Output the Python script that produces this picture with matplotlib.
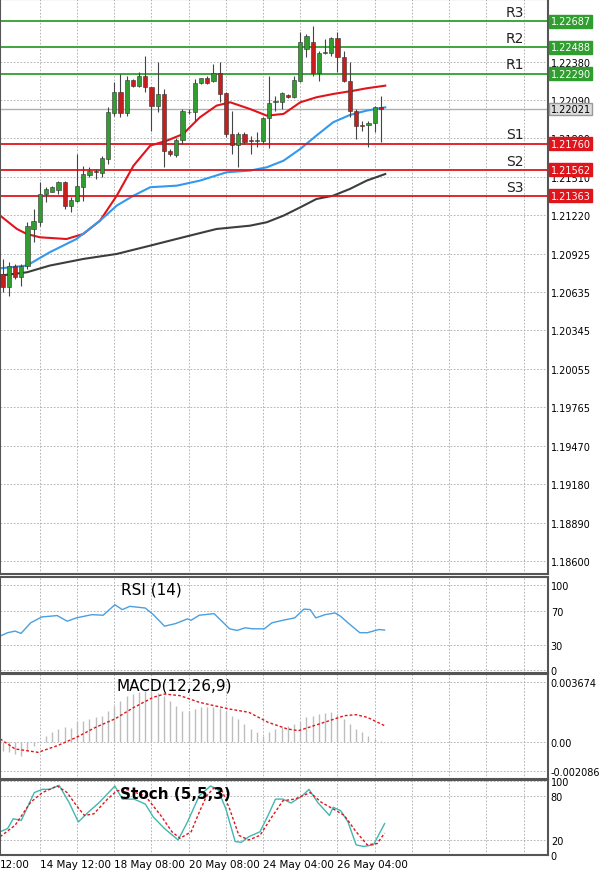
import matplotlib.pyplot as plt
import matplotlib.transforms as mtransforms
import numpy as np

# EURUSD H4 style chart: candles, MAs, pivots, RSI, MACD, Stoch

# candles, prices in 1e-5 units
opens = [120773, 120672, 120836, 120747, 120836, 121113, 121164, 121378, 121396, 121411,
         121471, 121290, 121328, 121429, 121522, 121550, 121534, 121643, 121991, 122153,
         121991, 122241, 122193, 122269, 122185, 122042, 122132, 121706, 121676, 121789,
         121996, 121996, 122218, 122259, 122231, 122294, 122140, 121832, 121751, 121832,
         121787, 121782, 121782, 121953, 122072, 122072, 122127, 122110, 122236, 122476,
         122531, 122294, 122445, 122445, 122556, 122412, 122236, 122009, 121900, 121900,
         121913, 122034]
highs = [120886, 120861, 120845, 120845, 121164, 121264, 121466, 121429, 121441, 121479,
         121479, 121353, 121681, 121592, 121580, 121567, 121668, 122034, 122223, 122286,
         122274, 122248, 122299, 122425, 122190, 122375, 122173, 121719, 121799, 122021,
         122021, 122248, 122259, 122274, 122362, 122375, 122148, 122009, 121845, 121850,
         121820, 121845, 121958, 122274, 122122, 122148, 122137, 122274, 122602, 122589,
         122652, 122463, 122551, 122564, 122602, 122463, 122375, 122021, 121933, 121933,
         122047, 122122]
lows = [120634, 120609, 120735, 120684, 120810, 121012, 121138, 121315, 121391, 121378,
        121264, 121239, 121315, 121328, 121504, 121492, 121504, 121605, 121971, 121958,
        121971, 122185, 122185, 122148, 121857, 121996, 121580, 121668, 121656, 121756,
        121984, 121933, 122211, 122211, 122223, 122072, 121807, 121681, 121580, 121756,
        121681, 121731, 121756, 121724, 122009, 122021, 122102, 122102, 122223, 122412,
        122274, 122236, 122438, 122425, 122299, 122223, 121958, 121794, 121857, 121731,
        121845, 121769]
closes = [120672, 120836, 120747, 120836, 121138, 121176, 121378, 121416, 121429, 121471,
          121290, 121335, 121441, 121529, 121555, 121542, 121653, 121996, 122153, 121991,
          122241, 122193, 122269, 122185, 122042, 122132, 121706, 121681, 121789, 122006,
          122001, 122218, 122254, 122218, 122294, 122135, 121832, 121751, 121832, 121769,
          121782, 121787, 121953, 122067, 122082, 122140, 122115, 122241, 122531, 122576,
          122294, 122445, 122450, 122556, 122412, 122236, 122009, 121895, 121895, 121913,
          122034, 122021]

# moving averages (read at sample positions)
ma_red_x = [-0.4, 2.3, 3.9, 6.0, 10.3, 13.0, 15.7, 18.4, 21.1, 23.8, 26.5, 29.1, 31.8,
            34.5, 36.7, 39.9, 42.6, 45.3, 48.0, 50.6, 53.3, 56.6, 58.7, 61.7]
ma_red = [121214, 121113, 121075, 121050, 121037, 121075, 121176, 121365, 121592, 121744,
          121782, 121832, 121958, 122047, 122072, 122021, 121971, 121984, 122072, 122110,
          122135, 122160, 122178, 122198]
ma_blue_x = [-0.4, 3.9, 7.6, 11.9, 15.7, 18.4, 21.1, 23.8, 28.1, 31.8, 36.1, 39.9, 42.6,
             45.3, 48.0, 50.6, 53.3, 56.0, 58.7, 61.7]
ma_blue = [120815, 120836, 120937, 121037, 121176, 121290, 121365, 121429, 121441, 121479,
           121542, 121555, 121580, 121630, 121719, 121820, 121921, 121976, 122009, 122034]
ma_black_x = [-0.4, 3.9, 7.6, 13.0, 18.4, 23.8, 29.1, 34.5, 39.9, 42.6, 45.3, 48.0, 50.6,
              53.3, 56.0, 58.7, 61.7]
ma_black = [120760, 120785, 120836, 120886, 120924, 120987, 121050, 121113, 121138, 121164,
            121214, 121277, 121340, 121365, 121416, 121479, 121529]

levels = {"R3": 1.22687, "R2": 1.22488, "R1": 1.22290,
          "S1": 1.21760, "S2": 1.21562, "S3": 1.21363}
last_price = 1.22021
price_ticks = [1.22380, 1.22090, 1.21800, 1.21510, 1.21220, 1.20925, 1.20635, 1.20345,
               1.20055, 1.19765, 1.19470, 1.19180, 1.18890, 1.18600]

rsi_x = [-0.4, 0.8, 2.0, 2.96, 4.5, 6.3, 8.8, 10.4, 11.9, 14.4, 16.2, 18.1, 19.3, 20.5,
         23.0, 24.3, 26.1, 27.9, 29.8, 30.4, 31.7, 34.1, 36.6, 37.8, 39.1, 40.3, 42.2,
         43.4, 45.2, 47.1, 48.6, 49.6, 50.5, 52.0, 53.6, 54.5, 55.7, 57.6, 58.8, 60.7, 61.6]
rsi = [40.1, 44.0, 45.9, 43.2, 55.6, 62.6, 64.2, 57.6, 61.5, 65.3, 64.6, 77.0, 71.2, 75.1,
       73.1, 65.3, 51.7, 54.8, 60.3, 58.7, 64.6, 66.5, 48.6, 46.7, 49.8, 48.6, 48.6,
       55.6, 58.7, 61.5, 71.9, 71.2, 61.5, 65.3, 67.3, 63.4, 55.6, 44.0, 44.0, 47.8, 47.1]

macd_hist = [-0.00056, -0.00066, -0.00076, -0.00086, -0.00056, -0.00025, 0.00006, 0.00037,
             0.00058, 0.00079, 0.00089, 0.00083, 0.0012, 0.0013, 0.0014, 0.00151, 0.00161,
             0.00192, 0.00223, 0.00254, 0.00285, 0.00295, 0.00306, 0.00316, 0.0031, 0.003,
             0.00285, 0.00254, 0.00223, 0.00192, 0.00192, 0.00202, 0.00213, 0.00213, 0.00213,
             0.00207, 0.00192, 0.00161, 0.0014, 0.00109, 0.00078, 0.00058, 0.00037, 0.00058,
             0.00078, 0.00089, 0.00099, 0.00109, 0.0012, 0.0015, 0.00161, 0.00171, 0.00178,
             0.00182, 0.00171, 0.0014, 0.00109, 0.00078, 0.00058, 0.00037, 0.00016, 0.00006]
macd_sig_x = [-0.4, 2.0, 5.7, 8.8, 11.9, 15.0, 18.1, 21.2, 24.3, 26.1, 28.6, 31.7, 34.1,
              36.6, 39.7, 42.8, 45.9, 47.7, 50.2, 52.7, 55.1, 57.0, 58.8, 61.6]
macd_sig = [0.00017, -0.00045, -0.00066, -0.00025, 0.00027, 0.00089, 0.00141, 0.00213,
            0.00275, 0.00295, 0.00285, 0.00244, 0.00223, 0.00202, 0.00182, 0.0012, 0.00079,
            0.00068, 0.00099, 0.0013, 0.00161, 0.00167, 0.00151, 0.00099]

stoch_k_x = [-0.4, 0.8, 1.7, 3.0, 5.1, 6.4, 7.6, 9.1, 10.7, 12.2, 13.8, 15.6, 18.1, 19.3,
             21.2, 23.0, 24.3, 26.1, 28.3, 29.8, 31.7, 33.5, 34.7, 36.0, 37.5, 38.5, 39.7,
             41.5, 42.8, 44.0, 45.2, 46.5, 48.3, 49.4, 50.8, 52.7, 53.3, 54.5, 55.7, 57.0,
             58.2, 59.8, 61.6]
stoch_k = [31.6, 36.0, 49.3, 47.1, 84.9, 89.3, 89.3, 94.7, 71.6, 44.9, 58.2, 71.6, 93.8, 76.0,
           76.0, 69.3, 51.6, 36.0, 20.4, 44.9, 80.4, 93.8, 89.3, 62.7, 18.2, 17.3, 24.9,
           31.6, 53.8, 76.0, 76.0, 70.7, 80.4, 89.3, 71.6, 53.8, 64.9, 60.4, 44.9, 13.8,
           11.6, 13.8, 42.7]
stoch_d_x = [-0.4, 2.0, 4.5, 6.4, 8.8, 10.4, 11.9, 13.2, 14.7, 16.9, 18.4, 19.9, 23.0, 25.5,
             27.3, 28.6, 30.4, 31.7, 32.9, 34.1, 35.4, 36.6, 38.1, 39.7, 41.5, 43.4, 45.2,
             47.1, 49.6, 51.4, 53.3, 55.1, 57.0, 58.8, 60.4, 61.6]
stoch_d = [24.9, 40.4, 71.6, 84.9, 93.8, 84.9, 67.1, 53.8, 56.0, 76.0, 87.1, 89.3, 80.4, 53.8,
           31.6, 22.7, 31.6, 58.2, 80.4, 91.6, 87.1, 62.7, 26.7, 20.4, 26.7, 51.6, 73.8,
           76.0, 84.9, 71.6, 62.7, 53.8, 31.6, 13.8, 15.6, 29.8]

date_pos = [-0.4, 6, 18, 30, 42, 54]
date_labels = ["12:00", "14 May 12:00", "18 May 08:00", "20 May 08:00",
               "24 May 04:00", "26 May 04:00"]

GREEN = "#2f9e2f"
RED = "#e0151b"
XMIN, XMAX = -0.43, 87.95


def style(ax, ymin, ymax):
    ax.set_xlim(XMIN, XMAX)
    ax.set_ylim(ymin, ymax)
    ax.set_xticks(np.arange(6, 88, 6))
    ax.tick_params(axis="x", length=0, labelbottom=False)
    ax.yaxis.tick_right()
    ax.tick_params(axis="y", length=0, labelsize=7, pad=2)
    ax.grid(True, color="#a9a9a9", linestyle=(0, (2, 2)), linewidth=0.6)
    for s in ax.spines.values():
        s.set_color("#555555")
        s.set_linewidth(1.5)


fig = plt.figure(figsize=(6, 8.78), dpi=100)
W = 548 / 600
ax = fig.add_axes([0, 1 - 575 / 878, W, 575 / 878])
ax_rsi = fig.add_axes([0, 1 - 674 / 878, W, 96 / 878])
ax_macd = fig.add_axes([0, 1 - 780 / 878, W, 105 / 878])
ax_st = fig.add_axes([0, 1 - 856 / 878, W, 75 / 878])

# --- price panel
style(ax, 1.18501, 1.22854)
ax.set_yticks(price_ticks)
ax.set_yticklabels([f"{t:.5f}" for t in price_ticks])
idx = np.arange(len(opens))
o, h, l, c = (np.array(a) / 1e5 for a in (opens, highs, lows, closes))
for i in idx:
    col = GREEN if c[i] >= o[i] else "#c81d1d"
    ax.vlines(i, l[i], h[i], color="#444444", linewidth=0.8, zorder=3)
    ax.bar(i, max(abs(c[i] - o[i]), 0.00002), bottom=min(o[i], c[i]), width=0.7,
           color=col, edgecolor="#333333", linewidth=0.4, zorder=4)
ax.plot(ma_red_x, np.array(ma_red) / 1e5, color=RED, lw=1.5, zorder=2)
ax.plot(ma_blue_x, np.array(ma_blue) / 1e5, color="#3399ee", lw=1.5, zorder=2)
ax.plot(ma_black_x, np.array(ma_black) / 1e5, color="#3a3f3a", lw=1.5, zorder=2)
ax.axhline(last_price, color="#b0b0b0", lw=1, zorder=1)

tr = mtransforms.blended_transform_factory(ax.transAxes, ax.transData)
for name, val in levels.items():
    col = GREEN if name.startswith("R") else RED
    ax.axhline(val, color=col, lw=1.3, zorder=2)
    ax.text(0.94, val + 0.00016, name, transform=tr, fontsize=10, color="#222222",
            ha="center", va="bottom")
    ax.text(1.005, val, f"{val:.5f}", transform=tr, fontsize=7, color="white",
            va="center", ha="left", clip_on=False,
            bbox=dict(boxstyle="square,pad=0.15", fc=col, ec=col))
ax.text(1.005, last_price, f"{last_price:.5f}", transform=tr, fontsize=7, color="black",
        va="center", ha="left", clip_on=False,
        bbox=dict(boxstyle="square,pad=0.15", fc="#dddddd", ec="#999999"))

# --- RSI
style(ax_rsi, -3.5, 109.7)
ax_rsi.set_yticks([0, 30, 70, 100])
ax_rsi.plot(rsi_x, rsi, color="#4a9fe0", lw=1)
ax_rsi.text(24, 104, "RSI (14)", fontsize=11, va="top", ha="center")

# --- MACD
style(ax_macd, -0.00231, 0.00419)
ax_macd.set_yticks([-0.0018, 0.0, 0.003674])
ax_macd.set_yticklabels(["-0.002086", "0.00", "0.003674"])
ax_macd.vlines(idx, 0, macd_hist, color="#bdbdbd", lw=1)
ax_macd.plot(macd_sig_x, macd_sig, color=RED, lw=1, linestyle=(0, (2, 1.5)))
ax_macd.text(18.4, 0.0040, "MACD(12,26,9)", fontsize=11, va="top", ha="left")

# --- Stoch
style(ax_st, 1, 102)
ax_st.set_yticks([0, 20, 80, 100])
ax_st.plot(stoch_k_x, stoch_k, color="#40b8b0", lw=1)
ax_st.plot(stoch_d_x, stoch_d, color=RED, lw=1, linestyle=(0, (2, 1.5)))
ax_st.text(19.0, 84, "Stoch (5,5,3)", fontsize=11, fontweight="bold", va="center", ha="left")

trx = mtransforms.blended_transform_factory(ax_st.transData, fig.transFigure)
for p, lab in zip(date_pos, date_labels):
    ax_st.text(p, 1 - 865 / 878, lab, transform=trx, fontsize=7.5, ha="left", va="center",
               clip_on=False)

fig.savefig("out.png", dpi=100, facecolor="white")
